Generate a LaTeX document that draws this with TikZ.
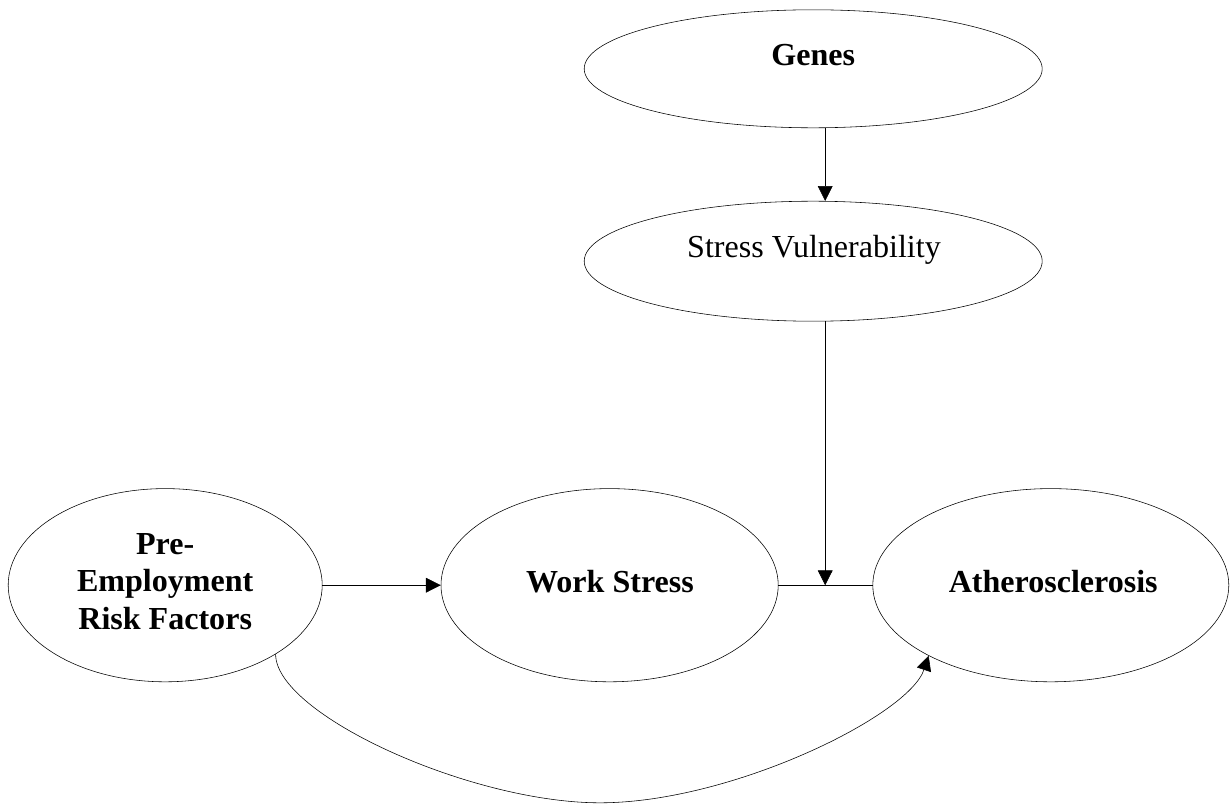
\documentclass[tikz,border=0pt]{standalone}
\usepackage{fontspec}
\setmainfont{Liberation Serif}
\usepackage{tikz}
\usetikzlibrary{arrows.meta, shapes.geometric}
\pgfdeclarelayer{edgelayer}
\pgfdeclarelayer{nodelayer}
\pgfsetlayers{nodelayer,main,edgelayer}

\begin{document}
\begin{tikzpicture}[line width=1.2pt,
	bubble/.style={draw, ellipse, inner sep=0pt},
	boldtext/.style={font={\fontsize{22.8}{26.7}\selectfont\bfseries}, align=center},
	plaintext/.style={font={\fontsize{22.8}{26.7}\selectfont}, align=center},
	arrowed/.style={-{Triangle[length=10.5pt, width=10.5pt]}}]
	\useasboundingbox (0, 0) rectangle (30.75, -20.125);
	\begin{pgfonlayer}{nodelayer}
		\node [bubble, minimum width=11.45cm, minimum height=2.95cm] (0) at (20.33, -1.72) {};
		\node [bubble, minimum width=11.45cm, minimum height=3cm] (1) at (20.33, -6.53) {};
		\node [bubble, minimum width=7.85cm, minimum height=4.83cm] (2) at (4.13, -14.63) {};
		\node [bubble, minimum width=8.43cm, minimum height=4.83cm] (3) at (15.24, -14.63) {};
		\node [bubble, minimum width=8.9cm, minimum height=4.83cm] (4) at (26.27, -14.63) {};
		\node [boldtext, anchor=base] (5) at (20.33, -1.63) {Genes};
		\node [plaintext, anchor=base] (6) at (20.35, -6.43) {Stress Vulnerability};
		\node [boldtext] (7) at (4.13, -14.54) {Pre-\\Employment\\Risk Factors};
		\node [boldtext, anchor=base] (8) at (15.25, -14.8) {Work Stress};
		\node [boldtext, anchor=base] (9) at (26.33, -14.8) {Atherosclerosis};
		\coordinate (10) at (20.63, -14.63);
		\coordinate (11) at (15, -20.07);
	\end{pgfonlayer}
	\begin{pgfonlayer}{edgelayer}
		\draw [arrowed] (0.south -| 10) to (1.north -| 10);
		\draw [arrowed] (1.south -| 10) to (10);
		\draw [arrowed] (2) to (3);
		\draw [] (3) to (4);
		\draw [arrowed] (2.-32) .. controls +(0, -1.5) and +(-3.25, 0) .. (11)
			.. controls +(3.28, 0) and +(-0.5, -1.5) .. (4.-150);
	\end{pgfonlayer}
\end{tikzpicture}
\end{document}
